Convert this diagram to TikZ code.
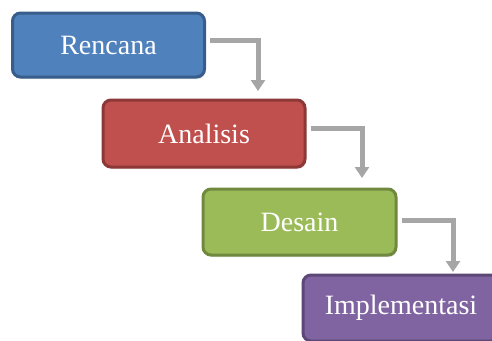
\documentclass[tikz,border=0pt]{standalone}
\usepackage{fontspec}
\setmainfont{Liberation Serif}
\usetikzlibrary{arrows.meta,shadows}
\definecolor{bfill}{HTML}{4F81BD}\definecolor{bdraw}{HTML}{385D8A}
\definecolor{rfill}{HTML}{C0504D}\definecolor{rdraw}{HTML}{8C3836}
\definecolor{gfill}{HTML}{9BBB59}\definecolor{gdraw}{HTML}{71893F}
\definecolor{pfill}{HTML}{8064A2}\definecolor{pdraw}{HTML}{5C4776}
\definecolor{arr}{HTML}{A6A6A6}
\tikzset{
  stage/.style={rounded corners=8pt, line width=3pt, text=white,
    font=\fontsize{28}{30}\selectfont, inner sep=0pt,
    drop shadow={opacity=0.25, shadow xshift=1pt, shadow yshift=-2pt}},
  flow/.style={arr, line width=5pt, -{Triangle[width=14pt,length=11pt]}}
}
\begin{document}
\begin{tikzpicture}[x=1pt,y=-1pt]
\useasboundingbox (0,0) rectangle (492,340);
\clip (0,0) rectangle (492,340);
\node[stage, fill=bfill, draw=bdraw, minimum width=192pt, minimum height=64pt] (ren) at (108.5,45) {Rencana};
\node[stage, fill=rfill, draw=rdraw, minimum width=202pt, minimum height=67pt] (ana) at (204,133.5) {Analisis};
\node[stage, fill=gfill, draw=gdraw, minimum width=193pt, minimum height=66pt] (des) at (299.5,222) {Desain};
\node[stage, fill=pfill, draw=pdraw, minimum width=196pt, minimum height=66pt] (imp) at (401,308) {Implementasi};
\coordinate (t1) at (258,91);
\coordinate (t2) at (362,178);
\coordinate (t3) at (453,272);
\draw[flow] ([xshift=4pt,yshift=5pt]ren.east) -| (t1);
\draw[flow] ([xshift=4pt,yshift=5pt]ana.east) -| (t2);
\draw[flow] ([xshift=4pt,yshift=2pt]des.east) -| (t3);
\end{tikzpicture}
\end{document}
